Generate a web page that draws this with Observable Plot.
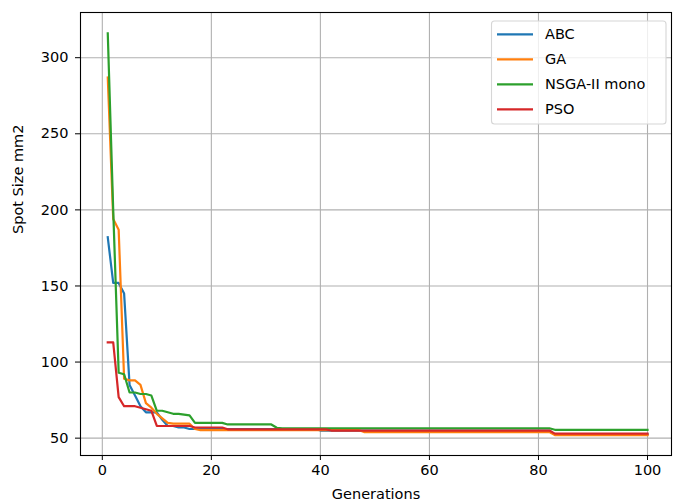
<!DOCTYPE html>
<html><head><meta charset="utf-8">
<script src="https://cdn.jsdelivr.net/npm/d3@7"></script>
<script src="https://cdn.jsdelivr.net/npm/@observablehq/plot@0.6"></script>
<style>body{margin:0;background:#fff} #chart{width:673px;height:504px}</style>
</head><body><div id="chart"></div>
<script>
const seriesNames = ["ABC", "GA", "NSGA-II mono", "PSO"];
const seriesColors = ["#1f77b4", "#ff7f0e", "#2ca02c", "#d62728"];
const xTicks = [0, 20, 40, 60, 80, 100];
const yTicks = [50, 100, 150, 200, 250, 300];
const xLabel = "Generations";
const yLabel = "Spot Size mm2";
const generations = d3.range(1, 101);

const abc = [
  182,152,152,145,85,78,71,67,67,67,
  62,58,58,57,57,56,56,56,56,56,
  56,56,56,56,56,56,56,56,56,56,
  56,56,56,56,56,56,56,56,56,55,
  55,55,55,55,55,55,55,55,55,55,
  55,55,55,55,55,55,55,55,55,55,
  55,55,55,55,55,55,55,55,55,55,
  55,55,55,55,55,55,55,55,55,55,
  55,55,52.5,52.5,52.5,52.5,52.5,52.5,52.5,52.5,
  52.5,52.5,52.5,52.5,52.5,52.5,52.5,52.5,52.5,52.5
];
const ga = [
  287,194,187,89,88,88,85,73,70,66,
  63,60,59.5,59.5,59.5,59.5,56,55.3,55.3,55.3,
  55.3,55.3,55.3,55.3,55.3,55.3,55.3,55.3,55.3,55.3,
  55.3,55.3,55.3,55.3,55.3,55.3,55.3,55.3,55.3,55.3,
  55.3,55.3,55.3,55.3,55.3,55.3,55.3,54,54,54,
  54,54,54,54,54,54,54,54,54,54,
  54,54,54,54,54,54,54,54,54,54,
  54,54,54,54,54,54,54,54,54,54,
  54,54,52,52,52,52,52,52,52,52,
  52,52,52,52,52,52,52,52,52,52
];
const nsga = [
  316,200,93,92,80,80,79,79,78,68,
  68,67,66,66,65.5,65,60,60,60,60,
  60,60,59,59,59,59,59,59,59,59,
  59,56.8,56.5,56.5,56.5,56.5,56.5,56.5,56.5,56.5,
  56.5,56.5,56.5,56.5,56.5,56.5,56.5,56.5,56.5,56.5,
  56.5,56.5,56.5,56.5,56.5,56.5,56.5,56.5,56.5,56.5,
  56.5,56.5,56.5,56.5,56.5,56.5,56.5,56.5,56.5,56.5,
  56.5,56.5,56.5,56.5,56.5,56.5,56.5,56.5,56.5,56.5,
  56.5,56.5,55.5,55.5,55.5,55.5,55.5,55.5,55.5,55.5,
  55.5,55.5,55.5,55.5,55.5,55.5,55.5,55.5,55.5,55.5
];
const pso = [
  113,113,77,71,71,71,70,69,68,58,
  58,58,58,58,58,58,57,57,57,57,
  57,57,55.8,55.8,55.8,55.8,55.8,55.8,55.8,55.8,
  55.8,55.8,55.8,55.8,55.8,55.8,55.8,55.8,55.8,55.8,
  55.8,55,55,55,55,55,55,55,55,55,
  55,55,55,55,55,55,55,55,55,55,
  55,55,55,55,55,55,55,55,55,55,
  55,55,55,55,55,55,55,55,55,55,
  55,55,53,53,53,53,53,53,53,53,
  53,53,53,53,53,53,53,53,53,53
];
const seriesValues = [abc, ga, nsga, pso];

const data = seriesNames.flatMap((name, i) =>
  seriesValues[i].map((v, j) => ({series: name, gen: generations[j], value: v})));

const plot = Plot.plot({
  width: 673, height: 504,
  marginLeft: 80, marginRight: 2, marginTop: 12, marginBottom: 49,
  style: {fontFamily: "DejaVu Sans", fontSize: "14.5px", color: "#000", background: "#fff"},
  x: {domain: [-4, 104.4], ticks: xTicks, tickSize: 5, tickPadding: 4, label: null},
  y: {domain: [38.6, 329.7], ticks: yTicks, tickSize: 5, tickPadding: 7, label: null},
  color: {domain: seriesNames, range: seriesColors},
  marks: [
    Plot.gridX(xTicks, {stroke: "#b0b0b0", strokeOpacity: 1, strokeWidth: 1.1}),
    Plot.gridY(yTicks, {stroke: "#b0b0b0", strokeOpacity: 1, strokeWidth: 1.1}),
    Plot.line(data, {x: "gen", y: "value", z: "series", stroke: "series",
      strokeWidth: 2.2, strokeLinejoin: "round", strokeLinecap: "square"}),
    Plot.frame({stroke: "#000", strokeWidth: 1.1}),
    Plot.text([yLabel], {frameAnchor: "left", dx: -62, rotate: -90, fontSize: 14.5, fill: "#000"}),
    Plot.text([xLabel], {frameAnchor: "bottom", dy: 43, fontSize: 14.5, fill: "#000"})
  ]
});

// legend (matplotlib-style, upper right)
const svg = d3.select(plot);
const lg = svg.append("g").attr("font-family", "DejaVu Sans").attr("font-size", "14.5px")
  .attr("text-anchor", "start");
lg.append("rect").attr("x", 491.5).attr("y", 21).attr("width", 174.5).attr("height", 103)
  .attr("rx", 3).attr("fill", "#fff").attr("fill-opacity", 0.8)
  .attr("stroke", "#d6d6d6").attr("stroke-width", 1.1);
seriesNames.forEach((name, i) => {
  const yy = 34.3 + i * 25;
  lg.append("line").attr("x1", 497).attr("x2", 533).attr("y1", yy).attr("y2", yy)
    .attr("stroke", seriesColors[i]).attr("stroke-width", 2.2);
  lg.append("text").attr("x", 545).attr("y", yy).attr("dy", "0.35em")
    .attr("text-anchor", "start").attr("fill", "#000").text(name);
});

document.getElementById("chart").appendChild(plot);
</script>
</body></html>
